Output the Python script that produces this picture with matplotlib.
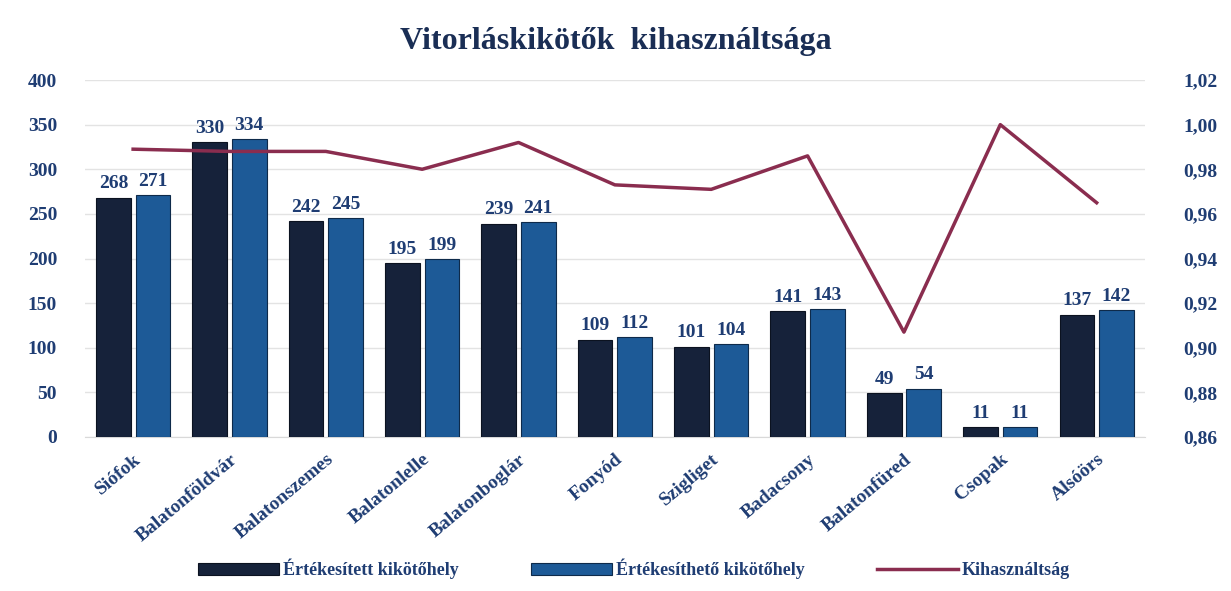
import matplotlib.pyplot as plt
import numpy as np
from matplotlib.ticker import FuncFormatter

plt.rcParams['font.family'] = ['Liberation Serif', 'DejaVu Serif']

# -----------------------------
# Data
# -----------------------------
ports = ["Siófok", "Balatonföldvár", "Balatonszemes", "Balatonlelle", "Balatonboglár",
         "Fonyód", "Szigliget", "Badacsony", "Balatonfüred", "Csopak", "Alsóörs"]
sold = [268, 330, 242, 195, 239, 109, 101, 141, 49, 11, 137]
available = [271, 334, 245, 199, 241, 112, 104, 143, 54, 11, 142]
usage = [0.989, 0.988, 0.988, 0.980, 0.992, 0.973, 0.971, 0.986, 0.907, 1.000, 0.965]

txt = "#1f3d73"
c_sold = "#16223a"
c_avail = "#1d5a97"
c_line = "#8a2d4f"

fig = plt.figure(figsize=(12.31, 5.91), dpi=100)
ax = fig.add_axes([0.069, 0.2606, 0.861, 0.604])
ax2 = ax.twinx()

x = np.arange(len(ports))
w = 0.36
b1 = ax.bar(x - 0.205, sold, w, color=c_sold, edgecolor="#0b1220", linewidth=0.8, zorder=3)
b2 = ax.bar(x + 0.205, available, w, color=c_avail, edgecolor="#0e2a4a", linewidth=0.8, zorder=3)

for bars in (b1, b2):
    for r in bars:
        ax.text(r.get_x() + r.get_width() / 2, r.get_height() + 6, f"{int(r.get_height())}",
                ha="center", va="bottom", fontsize=14, fontweight="bold", color=txt)

ln, = ax2.plot(x, usage, color=c_line, linewidth=2.5, zorder=4)

ax.set_xlim(-0.5, len(ports) - 0.5)
ax.set_ylim(0, 400)
ax.set_yticks(range(0, 401, 50))
ax2.set_ylim(0.86, 1.02)
ax2.set_yticks(np.arange(0.86, 1.021, 0.02))
ax2.yaxis.set_major_formatter(FuncFormatter(lambda v, p: f"{v:.2f}".replace(".", ",")))

ax.grid(axis="y", color="#e3e3e3", linewidth=1, zorder=0)
ax.set_axisbelow(True)
for a in (ax, ax2):
    for s in a.spines.values():
        s.set_visible(False)
ax.spines["bottom"].set_visible(True)
ax.spines["bottom"].set_color("#d9d9d9")

ax.set_xticks(x)
ax.set_xticklabels(ports, rotation=40, ha="right", rotation_mode="anchor",
                   fontsize=14, fontweight="bold", color=txt)
ax.tick_params(axis="x", length=0, pad=10)
ax.tick_params(axis="y", length=0, labelsize=14, labelcolor=txt, pad=20)
ax2.tick_params(axis="y", length=0, labelsize=14, labelcolor=txt, pad=28)
for lab in ax.get_yticklabels() + ax2.get_yticklabels():
    lab.set_fontweight("bold")

fig.text(0.5, 0.93, "Vitorláskikötők  kihasználtsága", ha="center", va="center",
         fontsize=23, fontweight="bold", color="#1a2e55")

fig.legend([b1, b2, ln], ["Értékesített kikötőhely", "Értékesíthető kikötőhely", "Kihasználtság"],
           loc="center", bbox_to_anchor=(0.515, 0.037), ncol=3, frameon=False,
           prop={"size": 13, "weight": "bold"}, labelcolor=txt,
           handlelength=4.5, handletextpad=0.2, columnspacing=4)

fig.savefig("out.png", dpi=100)
